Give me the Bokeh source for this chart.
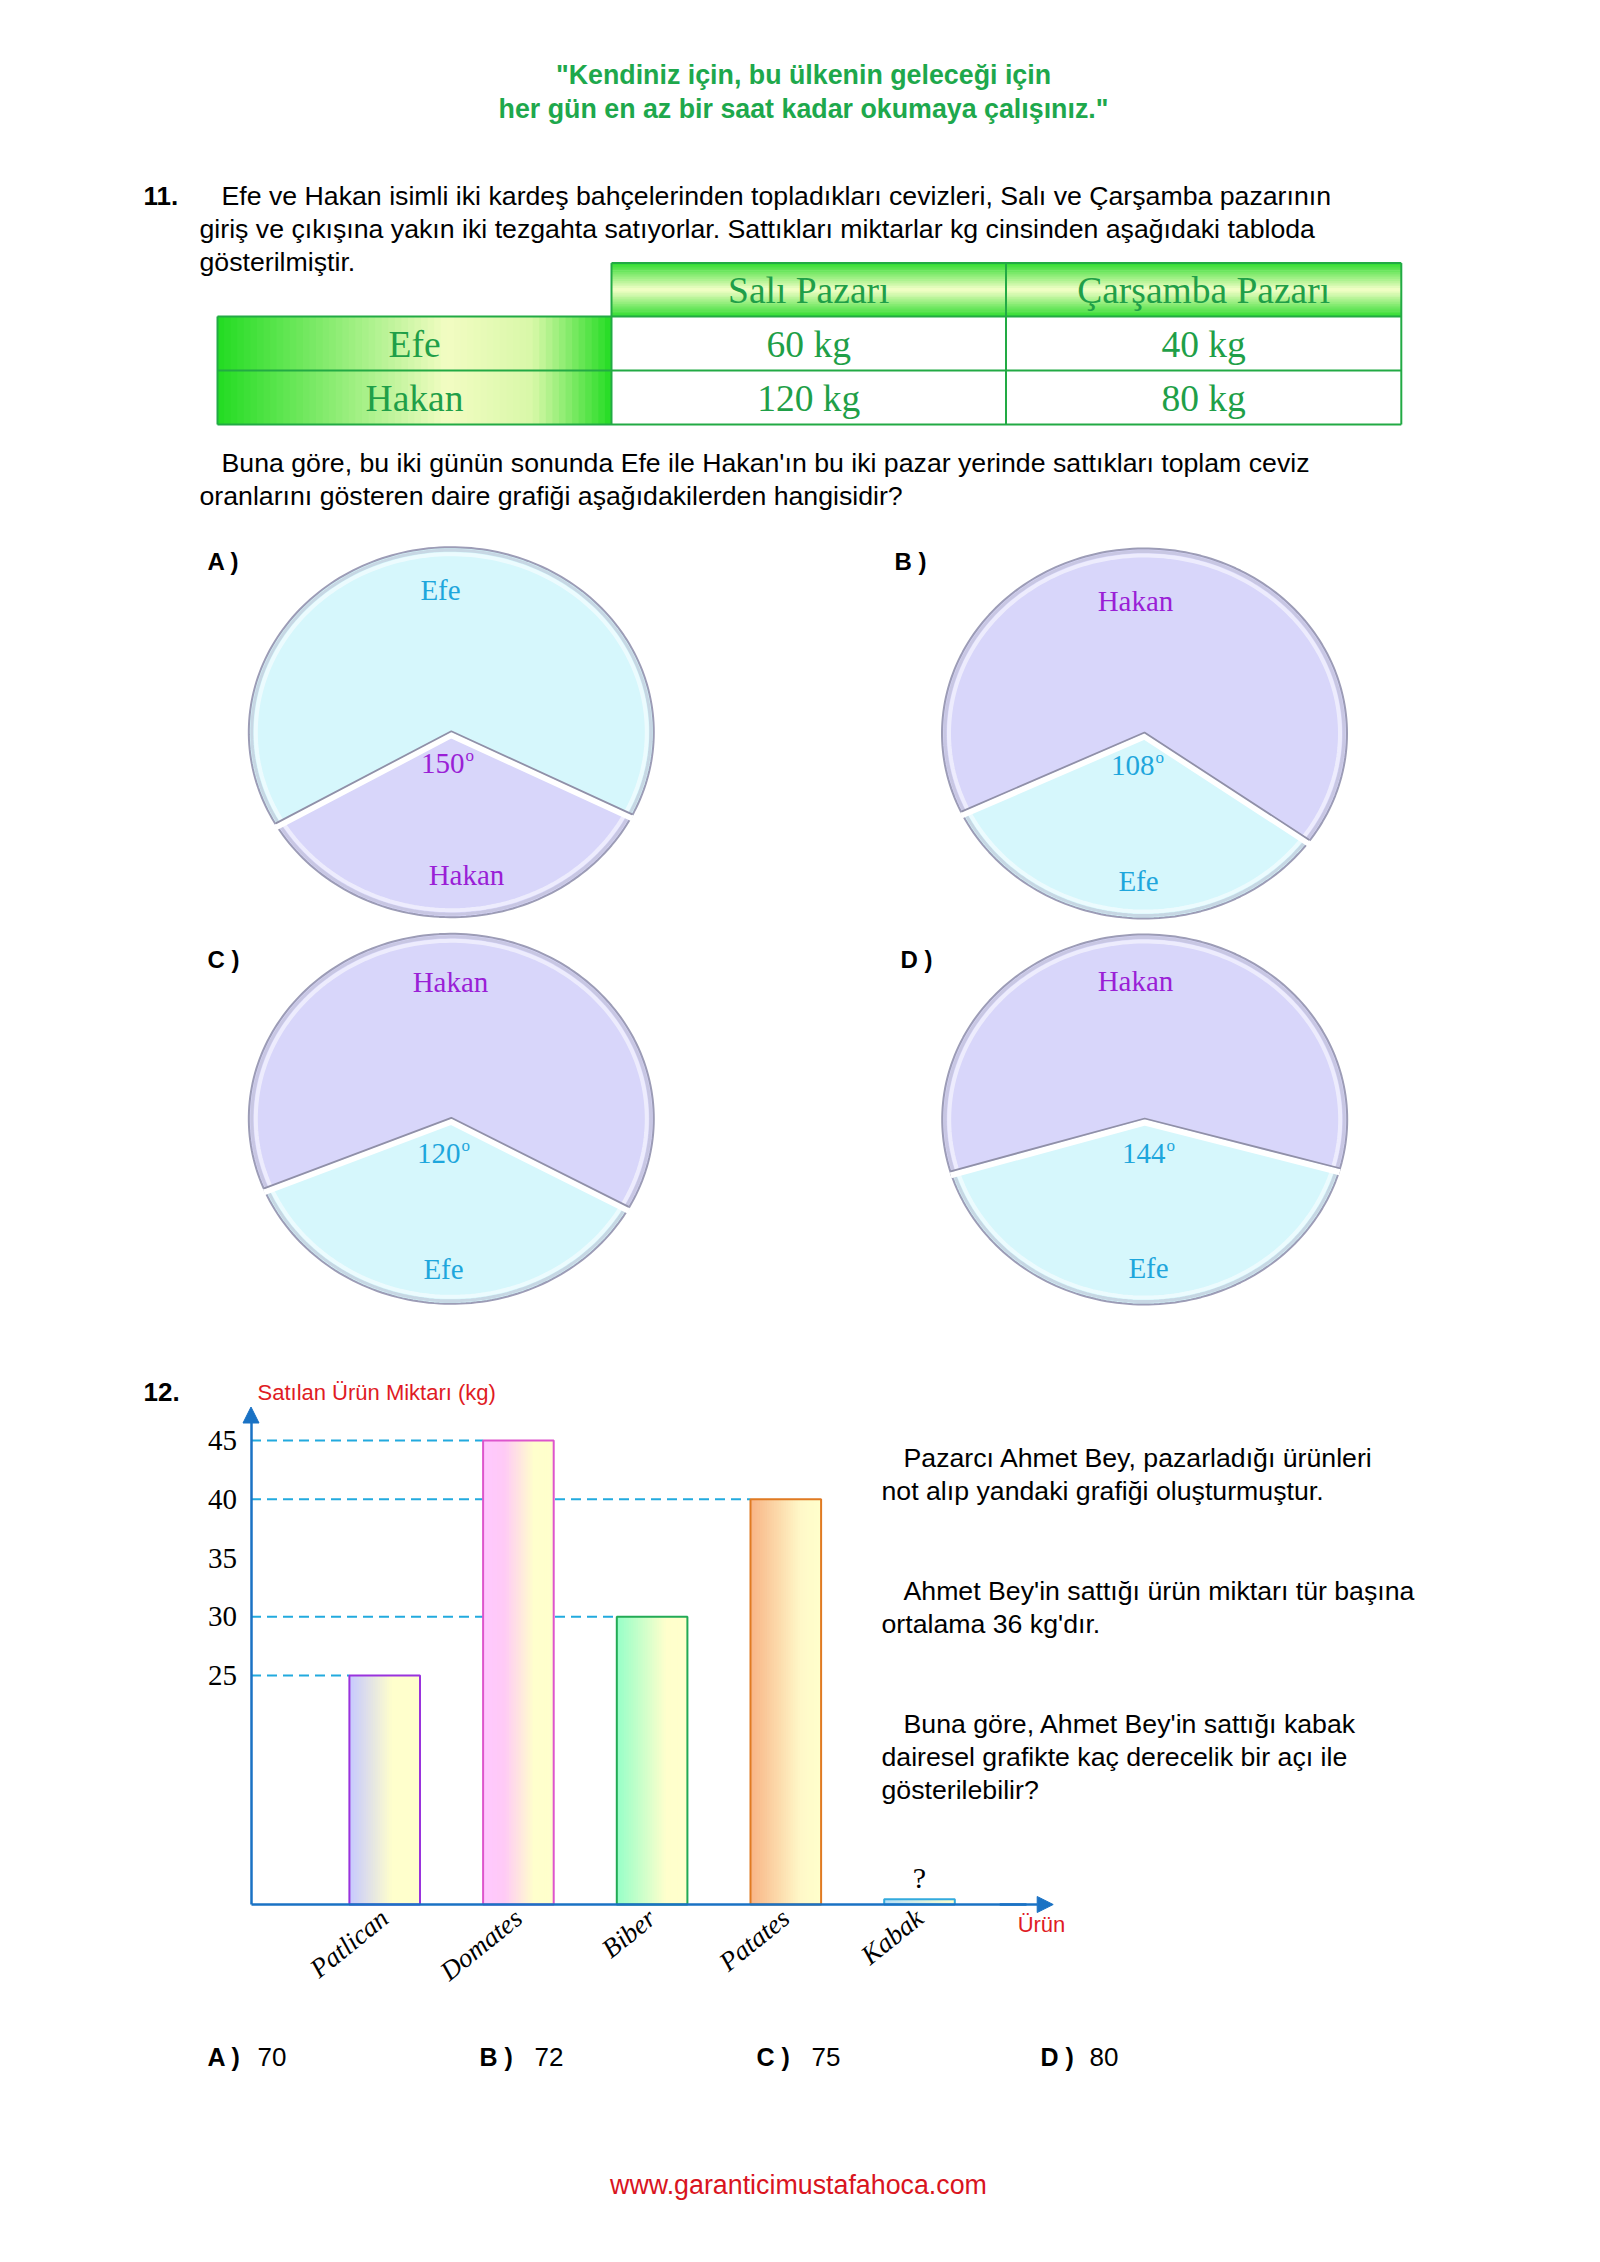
import numpy as np
from bokeh.plotting import figure
from bokeh.models import Range1d, LinearAxis, FixedTicker, Arrow, NormalHead
from bokeh.core.properties import value
from bokeh.embed import file_html
from bokeh.resources import INLINE

# ---------------- data ----------------
header_lines = ['"Kendiniz için, bu ülkenin geleceği için', 'her gün en az bir saat kadar okumaya çalışınız."']
q11_lines = ["Efe ve Hakan isimli iki kardeş bahçelerinden topladıkları cevizleri, Salı ve Çarşamba pazarının",
             "giriş ve çıkışına yakın iki tezgahta satıyorlar. Sattıkları miktarlar kg cinsinden aşağıdaki tabloda",
             "gösterilmiştir."]
q11_after = ["Buna göre, bu iki günün sonunda Efe ile Hakan'ın bu iki pazar yerinde sattıkları toplam ceviz",
             "oranlarını gösteren daire grafiği aşağıdakilerden hangisidir?"]
markets = ["Salı Pazarı", "Çarşamba Pazarı"]
people = ["Efe", "Hakan"]
sali_kg = [60, 120]
carsamba_kg = [40, 80]

pie_options = ["A )", "B )", "C )", "D )"]
pie_big = ["Efe", "Hakan", "Hakan", "Hakan"]
pie_small = ["Hakan", "Efe", "Efe", "Efe"]
pie_small_label = [150, 108, 120, 144]
pie_small_start = [209.9, 205.3, 202.4, 196.6]   # drawn slice edges (deg)
pie_small_end = [333.3, 324.5, 331.2, 344.4]

q12_lines = [("Pazarcı Ahmet Bey, pazarladığı ürünleri", True), ("not alıp yandaki grafiği oluşturmuştur.", False),
             ("Ahmet Bey'in sattığı ürün miktarı tür başına", True), ("ortalama 36 kg'dır.", False),
             ("Buna göre, Ahmet Bey'in sattığı kabak", True), ("dairesel grafikte kaç derecelik bir açı ile", False),
             ("gösterilebilir?", False)]
products = ["Patlican", "Domates", "Biber", "Patates", "Kabak"]
amounts = [25, 45, 30, 40]          # Kabak unknown ("?")
y_ticks = [25, 30, 35, 40, 45]
answer_letters = ["A )", "B )", "C )", "D )"]
answer_values = ["70", "72", "75", "80"]
footer = "www.garanticimustafahoca.com"

# ---------------- page mapping (reference pixels -> data) ----------------
PXX, X0 = 133.7, 250.5
PXY, Y45 = 11.75, 1440.0
def px2x(X): return (np.asarray(X, dtype=float) - X0) / PXX
def px2y(Y): return 45.0 - (np.asarray(Y, dtype=float) - Y45) / PXY

BASE = float(px2y(1904))
BAR_W = 70.6 / PXX

p = figure(width=1584, height=2246, output_backend="svg", toolbar_location=None,
           x_range=Range1d(float(px2x(0)), float(px2x(1584))),
           y_range=Range1d(float(px2y(2246)), float(px2y(0))),
           x_axis_location=None, y_axis_location=None, min_border=0,
           outline_line_color=None, background_fill_color="white", border_fill_color="white")
p.grid.visible = False

def txt(X, Y, s, size, color="black", font="Liberation Sans", style="normal", align="left", baseline="middle"):
    p.text(x=[float(px2x(X))], y=[float(px2y(Y))], text=[s], text_font=value(font),
           text_font_size=f"{size}px", text_color=color, text_font_style=style,
           text_align=align, text_baseline=baseline)

def hex2rgb(h):
    h = h.lstrip("#")
    return np.array([int(h[i:i + 2], 16) for i in (0, 2, 4)], dtype=float)

def interp(stops, t):
    for (t0, c0), (t1, c1) in zip(stops[:-1], stops[1:]):
        if t <= t1:
            f = 0 if t1 == t0 else (t - t0) / (t1 - t0)
            c = hex2rgb(c0) * (1 - f) + hex2rgb(c1) * f
            return "#%02x%02x%02x" % tuple(int(round(v)) for v in c)
    return stops[-1][1]

def grad(l, r, b, t, stops, horizontal=True, n=40):
    """gradient rectangle in data coords"""
    ls, rs, bs, ts, cs = [], [], [], [], []
    for i in range(n):
        f0, f1 = i / n, min(1.0, (i + 1.35) / n)
        c = interp(stops, (i + 0.5) / n)
        if horizontal:
            ls.append(l + (r - l) * f0); rs.append(l + (r - l) * f1); bs.append(b); ts.append(t)
        else:
            ts.append(t - (t - b) * f0); bs.append(t - (t - b) * f1); ls.append(l); rs.append(r)
        cs.append(c)
    p.quad(left=ls, right=rs, bottom=bs, top=ts, fill_color=cs, line_color=None)

# ---------------- header ----------------
GREEN_TXT = "#1ea84c"
txt(803, 74, header_lines[0], 26.8, GREEN_TXT, style="bold", align="center")
txt(803, 108, header_lines[1], 26.8, GREEN_TXT, style="bold", align="center")

# ---------------- question 11 ----------------
BODY = 26.7
txt(143, 195, "11.", 26, style="bold")
txt(221, 195, q11_lines[0], BODY)
txt(199, 228, q11_lines[1], BODY)
txt(199, 261, q11_lines[2], BODY)

# table
TL, C1, C2, TR = 217.0, 611.0, 1005.5, 1400.8
R0, R1, R2, R3 = 262.6, 316.0, 370.0, 424.0
for (a, b) in [(C1, C2), (C2, TR)]:
    grad(float(px2x(a)), float(px2x(b)), float(px2y(R1)), float(px2y(R0)),
         [(0, "#30dc30"), (0.5, "#f6ffc8"), (1, "#30dc30")], horizontal=False, n=30)
for (a, b) in [(R1, R2), (R2, R3)]:
    grad(float(px2x(TL)), float(px2x(C1)), float(px2y(b)), float(px2y(a)),
         [(0, "#22dc22"), (0.58, "#f2fcc2"), (0.8, "#d8f8a8"), (1, "#22dc22")], horizontal=True, n=60)
TB = "#22aa44"
hx = [[C1, TR], [TL, TR], [TL, TR], [TL, TR]]
hy = [R0, R1, R2, R3]
p.multi_line(xs=[list(px2x(h)) for h in hx], ys=[[float(px2y(y))] * 2 for y in hy], line_color=TB, line_width=2)
vx = [TL, C1, C2, TR]
vy = [[R1, R3], [R0, R3], [R0, R3], [R0, R3]]
p.multi_line(xs=[[float(px2x(x))] * 2 for x in vx], ys=[list(px2y(v)) for v in vy], line_color=TB, line_width=2)

TT = "#1f9f48"
SERIF = "Liberation Serif"
TS = 37.5
col_c = [(C1 + C2) / 2, (C2 + TR) / 2]
row_c = [(R1 + R2) / 2, (R2 + R3) / 2]
for j, m in enumerate(markets):
    txt(col_c[j], (R0 + R1) / 2 + 1, m, TS, TT, font=SERIF, align="center")
for i, name in enumerate(people):
    txt((TL + C1) / 2, row_c[i] + 1, name, TS, TT, font=SERIF, align="center")
    txt(col_c[0], row_c[i] + 1, f"{sali_kg[i]} kg", TS, TT, font=SERIF, align="center")
    txt(col_c[1], row_c[i] + 1, f"{carsamba_kg[i]} kg", TS, TT, font=SERIF, align="center")

txt(221, 462, q11_after[0], BODY)
txt(199, 495, q11_after[1], BODY)

# ---------------- pies ----------------
FILL = {"Efe": "#d6f7fc", "Hakan": "#d8d6fa"}
TCOL = {"Efe": "#1ea6dc", "Hakan": "#9a1fd6"}
RX, RY = 202.5, 185.0
pie_centers = [(450.8, 731.7), (1144.0, 733.0), (450.8, 1118.3), (1144.2, 1119.0)]
opt_pos = [(207, 561), (894, 561), (207, 959), (900, 959)]
big_pos = [(440, 589), (1135, 600), (450, 981), (1135, 980)]
small_pos = [(466, 874), (1138, 880), (443, 1268), (1148, 1267)]
deg_pos = [(450, 763), (1140, 765), (446, 1153), (1151, 1153)]

def arc(cx, cy, a0, a1, rx=RX, ry=RY, n=120):
    t = np.radians(np.linspace(a0, a1, n))
    return cx + rx * np.cos(t), cy - ry * np.sin(t)

for k in range(4):
    cx, cy = pie_centers[k]
    a0, a1 = pie_small_start[k], pie_small_end[k]
    ax, ay = arc(cx, cy, a0, a1)
    bx, by = arc(cx, cy, a1, a0 + 360)
    p.patch(x=px2x(np.r_[cx, ax]), y=px2y(np.r_[cy, ay]), fill_color=FILL[pie_small[k]], line_color=None)
    p.patch(x=px2x(np.r_[cx, bx]), y=px2y(np.r_[cy, by]), fill_color=FILL[pie_big[k]], line_color=None)
    # soft rim
    ex, ey = arc(cx, cy, 0, 360, RX - 3, RY - 3, 240)
    p.line(x=px2x(ex), y=px2y(ey), line_color="#b8b8cc", line_width=3, line_alpha=0.5)
    ex, ey = arc(cx, cy, 0, 360, RX - 7, RY - 7, 240)
    p.line(x=px2x(ex), y=px2y(ey), line_color="white", line_width=4, line_alpha=0.55)
    ex, ey = arc(cx, cy, 0, 360, RX, RY, 240)
    p.line(x=px2x(ex), y=px2y(ey), line_color="#9c9cb6", line_width=2)
    # cut edges
    e0 = (cx + RX * np.cos(np.radians(a0)), cy - RY * np.sin(np.radians(a0)))
    e1 = (cx + RX * np.cos(np.radians(a1)), cy - RY * np.sin(np.radians(a1)))
    p.multi_line(xs=[list(px2x([e0[0], cx, e1[0]]))], ys=[list(px2y([e0[1] + 3, cy + 3, e1[1] + 3]))],
                 line_color="white", line_width=6)
    p.multi_line(xs=[list(px2x([e0[0], cx, e1[0]]))], ys=[list(px2y([e0[1] - 1, cy - 1, e1[1] - 1]))],
                 line_color="#9090a8", line_width=1.8)
    txt(opt_pos[k][0], opt_pos[k][1], pie_options[k], 24, style="bold")
    txt(big_pos[k][0], big_pos[k][1], pie_big[k], 29, TCOL[pie_big[k]], font=SERIF, align="center")
    txt(small_pos[k][0], small_pos[k][1], pie_small[k], 29, TCOL[pie_small[k]], font=SERIF, align="center")
    dx, dy = deg_pos[k]
    txt(dx + 14, dy, str(pie_small_label[k]), 29, TCOL[pie_small[k]], font=SERIF, align="right")
    txt(dx + 15, dy - 8, "o", 17, TCOL[pie_small[k]], font=SERIF, align="left")

# ---------------- question 12 ----------------
RED = "#e01b24"
txt(143, 1391, "12.", 26, style="bold")
txt(257, 1392, "Satılan Ürün Miktarı (kg)", 22, RED)

AX = "#1a72c4"
GRID = "#22aade"
xs = [i + 1 for i in range(len(products))]
# dashed guide lines to each bar
p.segment(x0=[0] * len(amounts), y0=amounts, x1=[xs[i] - BAR_W / 2 for i in range(len(amounts))], y1=amounts,
          line_color=GRID, line_width=2, line_dash="10 6")

bar_stops = [
    [(0, "#c6c8ff"), (0.6, "#ffffcc"), (1, "#ffffcc")],
    [(0, "#ffc8ff"), (0.3, "#ffcaf6"), (0.72, "#ffffcc"), (1, "#ffffcc")],
    [(0, "#96ffc8"), (0.7, "#ffffcc"), (1, "#ffffcc")],
    [(0, "#f8b486"), (0.7, "#fff8c8"), (1, "#ffffcc")],
    [(0, "#b6dff8"), (1, "#ffffcc")],
]
bar_lines = ["#9933dd", "#dd55cc", "#22aa55", "#e07a22", "#33aadd"]
KABAK_STUB = 0.45
tops = amounts + [BASE + KABAK_STUB]
for i in range(len(products)):
    l, r = xs[i] - BAR_W / 2, xs[i] + BAR_W / 2
    grad(l, r, BASE, tops[i], bar_stops[i], horizontal=True, n=30)
p.quad(left=[x - BAR_W / 2 for x in xs], right=[x + BAR_W / 2 for x in xs], bottom=[BASE] * len(xs), top=tops,
       fill_color=None, line_color=bar_lines, line_width=2)
p.text(x=[xs[4]], y=[tops[4] + 0.45], text=["?"], text_font=value(SERIF), text_font_size="30px",
       text_align="center", text_baseline="bottom", text_color="black")

yaxis = LinearAxis(ticker=FixedTicker(ticks=y_ticks), fixed_location=0, bounds=(BASE, 47.2),
                   axis_line_color=AX, axis_line_width=2.5, major_tick_line_color=None,
                   major_tick_in=0, major_tick_out=0,
                   minor_tick_line_color=None, major_label_text_font=SERIF,
                   major_label_text_font_size="29px", major_label_text_color="black",
                   major_label_standoff=14)
p.add_layout(yaxis, "left")
xaxis = LinearAxis(ticker=FixedTicker(ticks=xs), fixed_location=BASE, bounds=(0, 5.8),
                   axis_line_color=AX, axis_line_width=2.5, major_tick_line_color=None,
                   major_tick_in=0, major_tick_out=0,
                   minor_tick_line_color=None, major_label_text_font=SERIF,
                   major_label_text_font_style="italic", major_label_text_font_size="27px",
                   major_label_text_color="black", major_label_orientation=0.68,
                   major_label_standoff=10,
                   major_label_overrides={x: n for x, n in zip(xs, products)})
p.add_layout(xaxis, "below")
p.add_layout(Arrow(end=NormalHead(size=16, fill_color=AX, line_color=AX), x_start=0, y_start=46.6,
                   x_end=0, y_end=47.85, line_color=AX, line_width=2.5))
p.add_layout(Arrow(end=NormalHead(size=16, fill_color=AX, line_color=AX), x_start=5.6, y_start=BASE,
                   x_end=6.0, y_end=BASE, line_color=AX, line_width=2.5))
txt(1041, 1924, "Ürün", 22, RED, align="center")

rows_y = [1457, 1490, 1590, 1623, 1723, 1756, 1789]
for (s, indent), yy in zip(q12_lines, rows_y):
    txt(903 if indent else 881, yy, s, BODY)

ans_x = [207, 479, 756, 1040]
val_x = [257, 534, 811, 1089]
for i in range(4):
    txt(ans_x[i], 2056, answer_letters[i], 25, style="bold")
    txt(val_x[i], 2056, answer_values[i], 26)

txt(798, 2184, footer, 26.8, "#d9141e", align="center")

open("out.html", "w").write(file_html(p, INLINE))
